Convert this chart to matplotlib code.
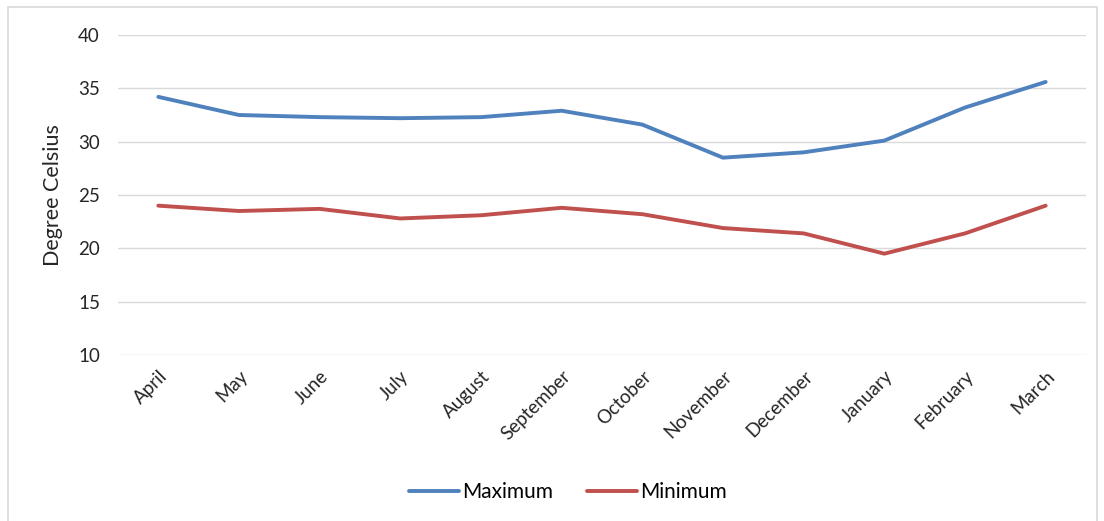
import matplotlib
matplotlib.use("Agg")
import matplotlib.pyplot as plt
from matplotlib.patches import Rectangle

months = ["April", "May", "June", "July", "August", "September", "October",
          "November", "December", "January", "February", "March"]
maximum = [34.2, 32.5, 32.3, 32.2, 32.3, 32.9, 31.6, 28.5, 29.0, 30.1, 33.2, 35.6]
minimum = [24.0, 23.5, 23.7, 22.8, 23.1, 23.8, 23.2, 21.9, 21.4, 19.5, 21.4, 24.0]
yticks = [10, 15, 20, 25, 30, 35, 40]

plt.rcParams['font.family'] = ['Lato', 'DejaVu Sans']

fig = plt.figure(figsize=(11.04, 5.21), dpi=100)
fig.patches.append(Rectangle((8/1104, -0.1), (1097-8)/1104, 1 - 7/521 + 0.1,
                             transform=fig.transFigure, fill=False,
                             edgecolor="#d9d9d9", linewidth=1.2))
ax = fig.add_axes([118/1104, 1 - 355/521, (1086-118)/1104, (355-35)/521])

x = list(range(len(months)))
ax.plot(x, maximum, color="#4F81BD", linewidth=2.8, label="Maximum", solid_capstyle="round")
ax.plot(x, minimum, color="#C0504D", linewidth=2.8, label="Minimum", solid_capstyle="round")

ax.set_xlim(-0.5, len(months) - 0.5)
ax.set_ylim(10, 40)
ax.set_yticks(yticks)
ax.grid(axis="y", color="#d9d9d9", linewidth=1)
ax.set_axisbelow(True)
for s in ax.spines.values():
    s.set_visible(False)
ax.tick_params(axis="both", length=0, labelsize=13.5, colors="#262626")
ax.tick_params(axis="y", pad=13)
ax.set_xticks(x)
ax.set_xticklabels(months, rotation=45, ha="right", rotation_mode="anchor")
ax.tick_params(axis="x", pad=9)
ax.set_ylabel("Degree Celsius", fontsize=15.5, color="#262626")
ax.yaxis.set_label_coords(-0.057, 0.5)

fig.legend(loc="center", bbox_to_anchor=(568/1104, 1 - 492/521), ncol=2,
           frameon=False, fontsize=15, handlelength=2.4, handletextpad=0.15,
           columnspacing=1.6)

fig.savefig("out.png", dpi=100)
